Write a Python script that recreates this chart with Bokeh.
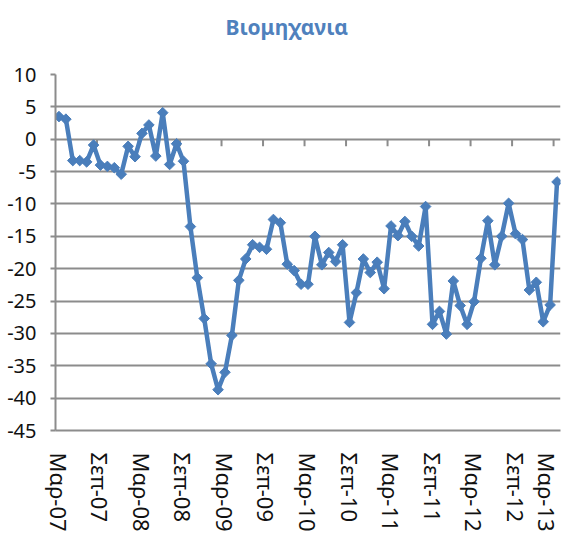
import numpy as np
from bokeh.plotting import figure
from bokeh.models import ColumnDataSource, FixedTicker, Range1d, Title
from bokeh.embed import file_html
from bokeh.resources import INLINE

title_text = "Βιομηχανια"

values = [3.5, 3.1, -3.3, -3.3, -3.5, -0.9, -4.0, -4.2, -4.4, -5.4,
          -1.1, -2.7, 0.9, 2.2, -2.6, 4.1, -3.9, -0.7, -3.4, -13.5,
          -21.4, -27.7, -34.7, -38.7, -36.0, -30.3, -21.8, -18.5, -16.3, -16.7,
          -17.0, -12.4, -12.9, -19.3, -20.3, -22.4, -22.4, -15.0, -19.4, -17.5,
          -18.9, -16.3, -28.3, -23.7, -18.5, -20.6, -19.0, -23.1, -13.4, -14.9,
          -12.7, -15.0, -16.5, -10.4, -28.6, -26.6, -30.1, -21.9, -25.7, -28.6,
          -25.1, -18.4, -12.6, -19.4, -15.0, -9.9, -14.6, -15.5, -23.3, -22.1,
          -28.2, -25.6, -6.6]

tick_labels = ["Μαρ-07", "Σεπ-07", "Μαρ-08", "Σεπ-08", "Μαρ-09", "Σεπ-09",
               "Μαρ-10", "Σεπ-10", "Μαρ-11", "Σεπ-11", "Μαρ-12", "Σεπ-12", "Μαρ-13"]

y_ticks = [10, 5, 0, -5, -10, -15, -20, -25, -30, -35, -40, -45]

label_step = 6
months = list(range(len(values)))
tick_pos = [i * label_step for i in range(len(tick_labels))]

LINE_COLOR = "#4A7EBB"
GRID_COLOR = "#8C8C8C"
FONT = "Noto Sans"

src = ColumnDataSource(dict(x=months, y=values))

p = figure(width=561, height=536, title=None,
           x_range=Range1d(-0.5, len(values) - 0.5),
           y_range=Range1d(min(y_ticks), max(y_ticks)),
           output_backend="svg", toolbar_location=None,
           min_border_left=55, min_border_right=1,
           min_border_top=74, min_border_bottom=106)

# spacer panel between the frame and the title (pushes the title upward)
spacer = Title(text=" ", text_font=FONT, text_font_size="1px", standoff=31)
p.add_layout(spacer, "above")

main_title = Title(text=title_text, text_font=FONT, text_font_size="21px",
                   text_font_style="bold", text_color="#4F81BD",
                   align="left", offset=170, vertical_align="bottom", standoff=0)
p.add_layout(main_title, "above")

p.outline_line_color = None
p.background_fill_color = "white"
p.border_fill_color = "white"

# grid
p.xgrid.visible = False
p.ygrid.ticker = FixedTicker(ticks=y_ticks)
p.ygrid.grid_line_color = GRID_COLOR
p.ygrid.grid_line_width = 2

# y axis
p.yaxis.ticker = FixedTicker(ticks=y_ticks)
p.yaxis.major_label_overrides = {v: str(v) for v in y_ticks}
p.yaxis.major_tick_out = 5
p.yaxis.major_tick_in = 0
p.yaxis.minor_tick_line_color = None
p.yaxis.major_tick_line_color = GRID_COLOR
p.yaxis.major_tick_line_width = 2
p.yaxis.axis_line_color = GRID_COLOR
p.yaxis.axis_line_width = 2
p.yaxis.major_label_standoff = 14
p.yaxis.major_label_text_font = FONT
p.yaxis.major_label_text_font_size = "20px"
p.yaxis.major_label_text_color = "#111111"

# x axis
p.xaxis.ticker = FixedTicker(ticks=tick_pos)
p.xaxis.major_label_overrides = {pos: lab for pos, lab in zip(tick_pos, tick_labels)}
p.xaxis.major_label_orientation = "vertical"
p.xaxis.major_tick_line_color = None
p.xaxis.minor_tick_line_color = None
p.xaxis.axis_line_color = GRID_COLOR
p.xaxis.axis_line_width = 2
p.xaxis.major_label_standoff = 16
p.xaxis.major_label_text_font = FONT
p.xaxis.major_label_text_font_size = "22px"
p.xaxis.major_label_text_color = "#111111"

# category tick marks hanging from the zero line (every label_step months)
tick_bounds = [t - 0.5 for t in tick_pos[1:]]
tick_len = 7 * (max(y_ticks) - min(y_ticks)) / 356.0
p.segment(x0=tick_bounds, y0=[0] * len(tick_bounds),
          x1=tick_bounds, y1=[-tick_len] * len(tick_bounds),
          line_color=GRID_COLOR, line_width=2)

p.line("x", "y", source=src, line_color=LINE_COLOR, line_width=4.5, line_join="round")
p.scatter("x", "y", source=src, marker="square", angle=np.pi / 4, size=7.5,
          fill_color=LINE_COLOR, line_color=LINE_COLOR)

open("out.html", "w").write(file_html(p, INLINE))
